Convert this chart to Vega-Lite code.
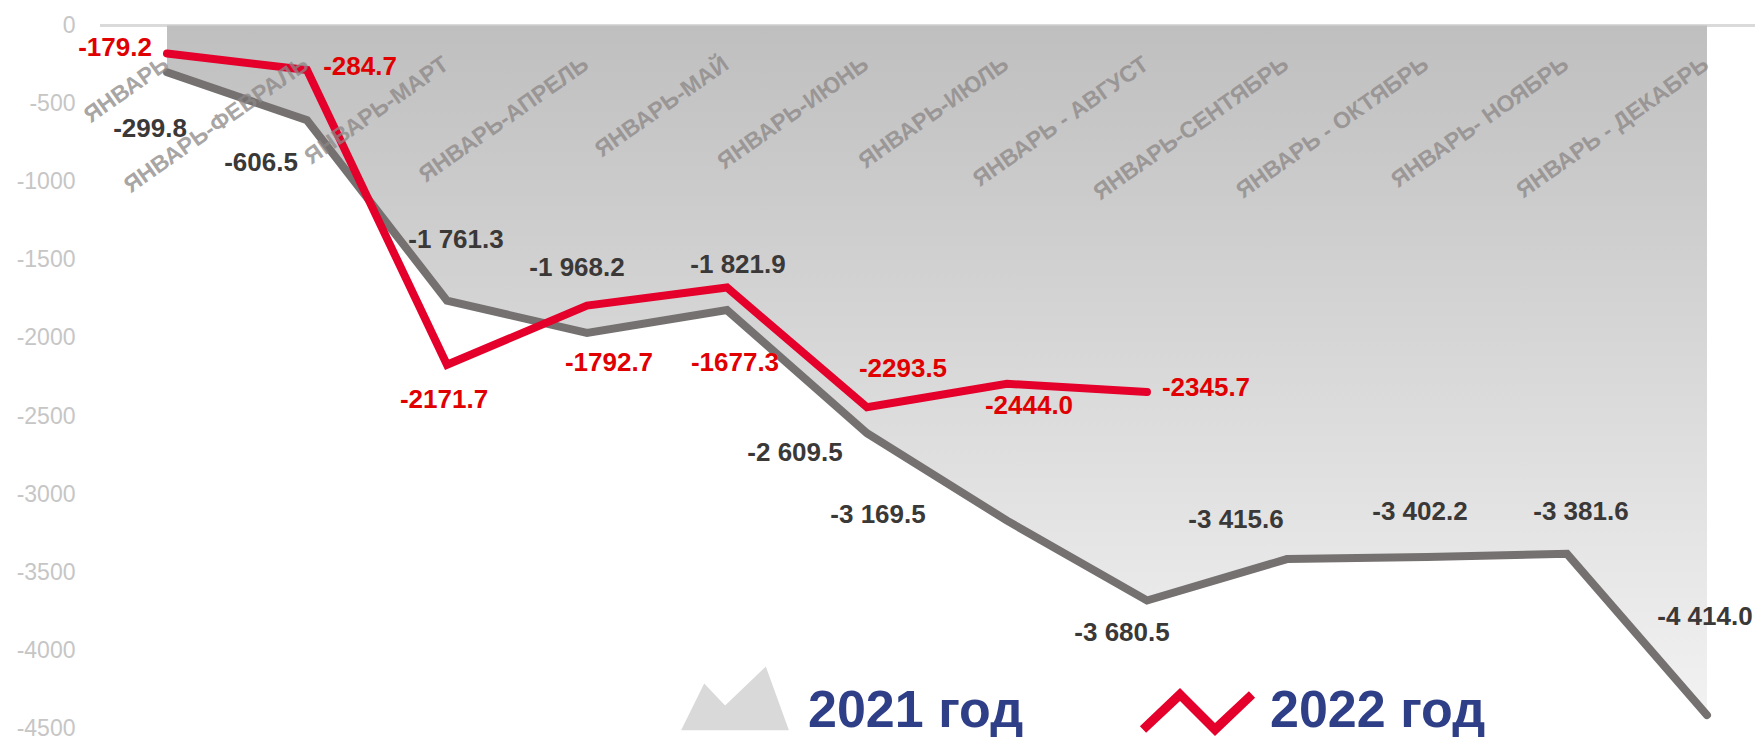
{
  "$schema": "https://vega.github.io/schema/vega-lite/v6.json",
  "width": 1655,
  "height": 703,
  "autosize": {"type": "none"},
  "padding": {"left": 100, "top": 25.5, "right": 0, "bottom": 8.5},
  "background": "white",
  "config": {
    "view": {"stroke": null},
    "text": {"font": "Liberation Sans"}
  },
  "datasets": {
    "values": [
      {"series": "2021 год", "m": 1, "v": -299.8, "label": "-299.8"},
      {"series": "2021 год", "m": 2, "v": -606.5, "label": "-606.5"},
      {"series": "2021 год", "m": 3, "v": -1761.3, "label": "-1 761.3"},
      {"series": "2021 год", "m": 4, "v": -1968.2, "label": "-1 968.2"},
      {"series": "2021 год", "m": 5, "v": -1821.9, "label": "-1 821.9"},
      {"series": "2021 год", "m": 6, "v": -2609.5, "label": "-2 609.5"},
      {"series": "2021 год", "m": 7, "v": -3169.5, "label": "-3 169.5"},
      {"series": "2021 год", "m": 8, "v": -3680.5, "label": "-3 680.5"},
      {"series": "2021 год", "m": 9, "v": -3415.6, "label": "-3 415.6"},
      {"series": "2021 год", "m": 10, "v": -3402.2, "label": "-3 402.2"},
      {"series": "2021 год", "m": 11, "v": -3381.6, "label": "-3 381.6"},
      {"series": "2021 год", "m": 12, "v": -4414.0, "label": "-4 414.0"},
      {"series": "2022 год", "m": 1, "v": -179.2, "label": "-179.2"},
      {"series": "2022 год", "m": 2, "v": -284.7, "label": "-284.7"},
      {"series": "2022 год", "m": 3, "v": -2171.7, "label": "-2171.7"},
      {"series": "2022 год", "m": 4, "v": -1792.7, "label": "-1792.7"},
      {"series": "2022 год", "m": 5, "v": -1677.3, "label": "-1677.3"},
      {"series": "2022 год", "m": 6, "v": -2444.0, "label": "-2293.5"},
      {"series": "2022 год", "m": 7, "v": -2293.5, "label": "-2444.0"},
      {"series": "2022 год", "m": 8, "v": -2345.7, "label": "-2345.7"}
    ],
    "periods": [
      {"m": 1, "name": "ЯНВАРЬ"},
      {"m": 2, "name": "ЯНВАРЬ-ФЕВРАЛЬ"},
      {"m": 3, "name": "ЯНВАРЬ-МАРТ"},
      {"m": 4, "name": "ЯНВАРЬ-АПРЕЛЬ"},
      {"m": 5, "name": "ЯНВАРЬ-МАЙ"},
      {"m": 6, "name": "ЯНВАРЬ-ИЮНЬ"},
      {"m": 7, "name": "ЯНВАРЬ-ИЮЛЬ"},
      {"m": 8, "name": "ЯНВАРЬ - АВГУСТ"},
      {"m": 9, "name": "ЯНВАРЬ-СЕНТЯБРЬ"},
      {"m": 10, "name": "ЯНВАРЬ - ОКТЯБРЬ"},
      {"m": 11, "name": "ЯНВАРЬ- НОЯБРЬ"},
      {"m": 12, "name": "ЯНВАРЬ - ДЕКАБРЬ"}
    ]
  },
  "data": {"name": "values"},
  "layer": [
    {
      "mark": {"type": "rule", "color": "#d9d9d9", "strokeWidth": 2},
      "encoding": {"y": {"datum": 0, "type": "quantitative"}}
    },
    {
      "transform": [{"filter": "datum.series === '2021 год'"}],
      "mark": {
        "type": "area",
        "color": {"gradient": "linear", "x1": 0, "y1": 0, "x2": 0, "y2": 1,
          "stops": [{"offset": 0, "color": "#bfbfbf"}, {"offset": 1, "color": "#f2f2f2"}]}
      },
      "encoding": {
        "x": {"field": "m", "type": "quantitative", "scale": {"domain": [0.5214, 12.343], "nice": false, "zero": false}, "axis": null},
        "y": {"field": "v", "type": "quantitative", "scale": {"domain": [-4500, 0], "nice": false},
          "axis": {"title": null, "domain": false, "ticks": false, "grid": false, "values": [0, -500, -1000, -1500, -2000, -2500, -3000, -3500, -4000, -4500],
            "labelExpr": "datum.value + ''", "labelFont": "Liberation Sans", "labelFontSize": 23, "labelColor": "#c6c6c6", "labelPadding": 25}},
        "y2": {"datum": 0}
      }
    },
    {
      "mark": {"type": "line", "strokeWidth": 8, "strokeJoin": "miter", "strokeCap": "round"},
      "encoding": {
        "x": {"field": "m", "type": "quantitative"},
        "y": {"field": "v", "type": "quantitative"},
        "color": {"field": "series", "type": "nominal",
          "scale": {"domain": ["2021 год", "2022 год"], "range": ["#767171", "#e4002b"]},
          "legend": {
            "orient": "none", "legendX": 580, "legendY": 630, "direction": "horizontal", "title": null,
            "padding": 0, "labelFont": "Liberation Sans", "labelFontSize": 52, "labelFontWeight": "bold",
            "labelColor": "#2e3f87", "labelOffset": 18, "columnPadding": 115, "symbolSize": 12100,
            "symbolStrokeWidth": 0, "symbolStrokeColor": "transparent", "labelLimit": 500,
            "encode": {"symbols": {"update": {
              "shape": [{"test": "datum.value === '2021 год'", "value": "M-0.98,0.36L-0.56,-0.49L-0.18,-0.09L0.56,-0.8L0.98,0.36Z"}, {"value": "M-1.038,0.285L-0.309,-0.407L0.327,0.229L0.944,-0.351L1.056,-0.231L0.327,0.462L-0.309,-0.175L-0.925,0.405Z"}],
              "fill": [{"test": "datum.value === '2021 год'", "value": "#d9d9d9"}, {"value": "#e4002b"}],
              "strokeWidth": {"value": 0},
              "size": {"value": 12100},
              "opacity": {"value": 1}
            }}}
          }
        }
      }
    },
    {
      "data": {"name": "periods"},
      "mark": {"type": "text", "font": "Liberation Sans", "fontSize": 23, "fontWeight": "bold", "color": "#8c8787", "opacity": 0.75,
        "align": "right", "baseline": "alphabetic", "angle": 325, "dx": 4},
      "encoding": {
        "x": {"field": "m", "type": "quantitative"},
        "y": {"datum": -285, "type": "quantitative"},
        "text": {"field": "name"}
      }
    },
    {
      "transform": [{"filter": "datum.series === '2021 год'"}],
      "encoding": {
        "x": {"field": "m", "type": "quantitative"},
        "y": {"field": "v", "type": "quantitative"},
        "text": {"field": "label"}
      },
      "layer": [
        {"transform": [{"filter": "datum.m === 1"}], "mark": {"type": "text", "fontSize": 26, "fontWeight": "bold", "color": "#3b3838", "dx": -17, "dy": 57}},
        {"transform": [{"filter": "datum.m === 2"}], "mark": {"type": "text", "fontSize": 26, "fontWeight": "bold", "color": "#3b3838", "dx": -46, "dy": 43}},
        {"transform": [{"filter": "datum.m === 3"}], "mark": {"type": "text", "fontSize": 26, "fontWeight": "bold", "color": "#3b3838", "dx": 9, "dy": -61}},
        {"transform": [{"filter": "datum.m === 4"}], "mark": {"type": "text", "fontSize": 26, "fontWeight": "bold", "color": "#3b3838", "dx": -10, "dy": -65}},
        {"transform": [{"filter": "datum.m === 5"}], "mark": {"type": "text", "fontSize": 26, "fontWeight": "bold", "color": "#3b3838", "dx": 11, "dy": -45}},
        {"transform": [{"filter": "datum.m === 6"}], "mark": {"type": "text", "fontSize": 26, "fontWeight": "bold", "color": "#3b3838", "dx": -72, "dy": 20}},
        {"transform": [{"filter": "datum.m === 7"}], "mark": {"type": "text", "fontSize": 26, "fontWeight": "bold", "color": "#3b3838", "dx": -129, "dy": -6}},
        {"transform": [{"filter": "datum.m === 8"}], "mark": {"type": "text", "fontSize": 26, "fontWeight": "bold", "color": "#3b3838", "dx": -25, "dy": 33}},
        {"transform": [{"filter": "datum.m === 9"}], "mark": {"type": "text", "fontSize": 26, "fontWeight": "bold", "color": "#3b3838", "dx": -51, "dy": -39}},
        {"transform": [{"filter": "datum.m === 10"}], "mark": {"type": "text", "fontSize": 26, "fontWeight": "bold", "color": "#3b3838", "dx": -7, "dy": -45}},
        {"transform": [{"filter": "datum.m === 11"}], "mark": {"type": "text", "fontSize": 26, "fontWeight": "bold", "color": "#3b3838", "dx": 14, "dy": -42}},
        {"transform": [{"filter": "datum.m === 12"}], "mark": {"type": "text", "fontSize": 26, "fontWeight": "bold", "color": "#3b3838", "dx": -2, "dy": -98}}
      ]
    },
    {
      "transform": [{"filter": "datum.series === '2022 год'"}],
      "encoding": {
        "x": {"field": "m", "type": "quantitative"},
        "y": {"field": "v", "type": "quantitative"},
        "text": {"field": "label"}
      },
      "layer": [
        {"transform": [{"filter": "datum.m === 1"}], "mark": {"type": "text", "fontSize": 26, "fontWeight": "bold", "color": "#e00000", "dx": -52, "dy": -5}},
        {"transform": [{"filter": "datum.m === 2"}], "mark": {"type": "text", "fontSize": 26, "fontWeight": "bold", "color": "#e00000", "dx": 53, "dy": -3}},
        {"transform": [{"filter": "datum.m === 3"}], "mark": {"type": "text", "fontSize": 26, "fontWeight": "bold", "color": "#e00000", "dx": -3, "dy": 35}},
        {"transform": [{"filter": "datum.m === 4"}], "mark": {"type": "text", "fontSize": 26, "fontWeight": "bold", "color": "#e00000", "dx": 22, "dy": 57}},
        {"transform": [{"filter": "datum.m === 5"}], "mark": {"type": "text", "fontSize": 26, "fontWeight": "bold", "color": "#e00000", "dx": 8, "dy": 75}},
        {"transform": [{"filter": "datum.m === 6"}], "mark": {"type": "text", "fontSize": 26, "fontWeight": "bold", "color": "#e00000", "dx": 36, "dy": -38}},
        {"transform": [{"filter": "datum.m === 7"}], "mark": {"type": "text", "fontSize": 26, "fontWeight": "bold", "color": "#e00000", "dx": 22, "dy": 22}},
        {"transform": [{"filter": "datum.m === 8"}], "mark": {"type": "text", "fontSize": 26, "fontWeight": "bold", "color": "#e00000", "dx": 59, "dy": -4}}
      ]
    }
  ]
}
